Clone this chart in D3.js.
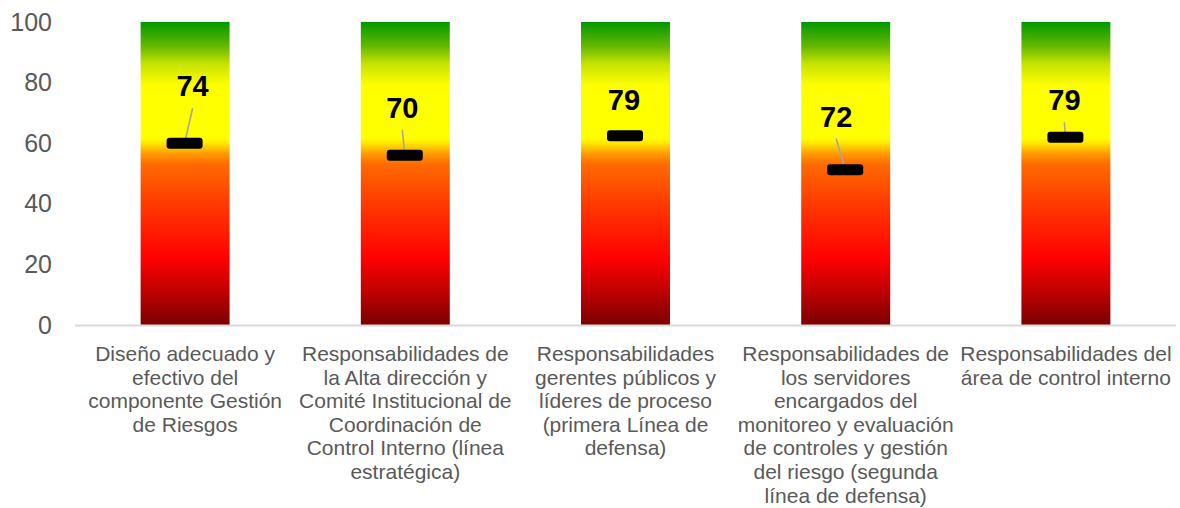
<!DOCTYPE html>
<html><head><meta charset="utf-8">
<script src="https://cdn.jsdelivr.net/npm/d3@7"></script>
<style>
html,body{margin:0;padding:0;background:#fff;}
svg{display:block;font-family:"Liberation Sans",Arial,sans-serif;}
</style></head>
<body>
<svg id="c" width="1180" height="508"></svg>
<script>
// ---- data ----
const categories = [
  ["Diseño adecuado y","efectivo del","componente Gestión","de Riesgos"],
  ["Responsabilidades de","la Alta dirección y","Comité Institucional de","Coordinación de","Control Interno (línea","estratégica)"],
  ["Responsabilidades","gerentes públicos y","líderes de proceso","(primera Línea de","defensa)"],
  ["Responsabilidades de","los servidores","encargados del","monitoreo y evaluación","de controles y gestión","del riesgo (segunda","línea de defensa)"],
  ["Responsabilidades del","área de control interno"]
];
const scaleMax = [100, 100, 100, 100, 100];        // full gradient bar
const markerValues = [60, 56, 62.5, 51.2, 62];     // marker position on axis
const scoreLabels = [74, 70, 79, 72, 79];          // printed score
const yTicks = [0, 20, 40, 60, 80, 100];

// label layout (pixel offsets from marker centre) and leader visibility
const labelDx = [8, -2.5, -1, -9, -1];
const labelDy = [-47, -37.6, -25.5, -43.3, -27];
const showLeader = [true, true, false, true, true];

(function () {
const svg = d3.select("#c");
const pl = 75, pr = 1176, pt = 22, pb = 325;

const x = d3.scaleBand().domain(d3.range(categories.length))
  .range([pl, pr]).paddingInner(0.596).paddingOuter(0.298);
const y = d3.scaleLinear().domain([0, 100]).range([pb, pt]);

const defs = svg.append("defs");
const grad = defs.append("linearGradient").attr("id", "g")
  .attr("gradientUnits", "userSpaceOnUse")
  .attr("x1", 0).attr("x2", 0).attr("y1", y(0)).attr("y2", y(100));
[[0, "#7a0000"], [0.12, "#c40000"], [0.22, "#ff0000"], [0.40, "#ff3a00"],
 [0.53, "#ff6a00"], [0.565, "#ff9a00"], [0.60, "#ffe600"], [0.615, "#ffff00"],
 [0.79, "#ffff00"], [0.86, "#c8e400"], [0.92, "#66b800"], [1, "#009800"]]
 .forEach(([o, c]) => grad.append("stop").attr("offset", o).attr("stop-color", c));

// bars
svg.append("g").selectAll("rect").data(scaleMax).join("rect")
  .attr("x", (d, i) => x(i)).attr("width", x.bandwidth())
  .attr("y", d => y(d)).attr("height", d => y(0) - y(d))
  .attr("fill", "url(#g)");

// y axis
const ya = svg.append("g").attr("transform", `translate(52,0)`)
  .call(d3.axisLeft(y).tickValues(yTicks).tickSize(0).tickPadding(0));
ya.select(".domain").remove();
ya.selectAll("text").attr("font-size", 25).attr("fill", "#595959")
  .attr("font-family", "Liberation Sans, Arial, sans-serif");

// x axis line
svg.append("line").attr("x1", pl).attr("x2", pr)
  .attr("y1", pb + 0.5).attr("y2", pb + 0.5)
  .attr("stroke", "#d9d9d9").attr("stroke-width", 2);

// x labels
const xl = svg.append("g").selectAll("text").data(categories).join("text")
  .attr("text-anchor", "middle").attr("font-size", 21).attr("fill", "#595959")
  .attr("transform", (d, i) => `translate(${x(i) + x.bandwidth() / 2},361)`);
xl.selectAll("tspan").data(d => d).join("tspan")
  .attr("x", 0).attr("y", (d, j) => j * 23.6).text(d => d);

// markers, leaders, labels
const cx = i => x(i) + x.bandwidth() / 2 - 0.5;
const items = markerValues.map((v, i) => ({ i, v }));
const g = svg.append("g");
g.selectAll("line.lead").data(items.filter(d => showLeader[d.i])).join("line").attr("class", "lead")
  .attr("x1", d => cx(d.i) + labelDx[d.i]).attr("y1", d => y(d.v) + labelDy[d.i] + 12)
  .attr("x2", d => cx(d.i)).attr("y2", d => y(d.v))
  .attr("stroke", "#a6a6a6").attr("stroke-width", 1.6);
g.selectAll("rect.m").data(items).join("rect").attr("class", "m")
  .attr("x", d => cx(d.i) - 18).attr("y", d => y(d.v) - 5.5)
  .attr("width", 36).attr("height", 11).attr("rx", 3).attr("fill", "#000");
g.selectAll("text.lab").data(items).join("text").attr("class", "lab")
  .attr("x", d => cx(d.i) + labelDx[d.i]).attr("y", d => y(d.v) + labelDy[d.i])
  .attr("text-anchor", "middle").attr("font-size", 29).attr("font-weight", "bold")
  .attr("fill", "#000").text(d => scoreLabels[d.i]);
})();
</script>
</body></html>
